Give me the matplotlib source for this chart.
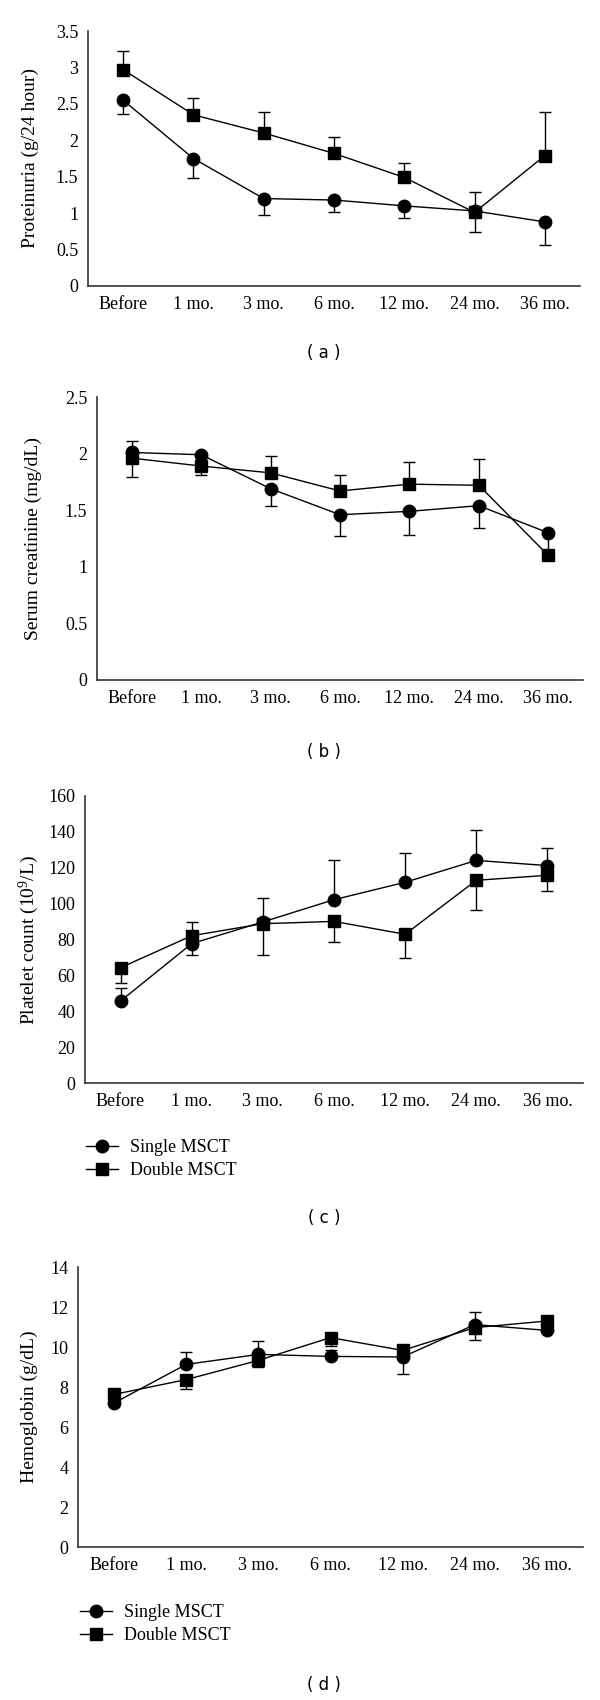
import numpy as np
import matplotlib
matplotlib.use("Agg")
import matplotlib.pyplot as plt

plt.rcParams["font.family"] = ["Liberation Serif", "DejaVu Serif"]
plt.rcParams["mathtext.fontset"] = "custom"
plt.rcParams["mathtext.rm"] = "Liberation Serif"
plt.rcParams["mathtext.it"] = "Liberation Serif:italic"

months = ["Before", "1 mo.", "3 mo.", "6 mo.", "12 mo.", "24 mo.", "36 mo."]

# (a) proteinuria
prot_single = [2.55, 1.75, 1.20, 1.18, 1.10, 1.03, 0.88]
prot_single_err = [0.19, 0.27, 0.22, 0.16, 0.17, 0.29, 0.32]
prot_double = [2.97, 2.35, 2.10, 1.82, 1.49, 1.01, 1.79]
prot_double_err = [0.25, 0.23, 0.29, 0.22, 0.20, 0.28, 0.60]

# (b) serum creatinine
creat_single = [2.01, 1.99, 1.69, 1.46, 1.49, 1.54, 1.30]
creat_single_err = [0.22, 0.18, 0.15, 0.19, 0.21, 0.20, 0.18]
creat_double = [1.96, 1.89, 1.83, 1.67, 1.73, 1.72, 1.10]
creat_double_err = [0.15, 0.08, 0.15, 0.14, 0.20, 0.23, 0.05]

# (c) platelet count
plt_single = [45.7, 77.7, 89.8, 102.2, 111.9, 124.1, 121.2]
plt_single_err = [7.5, 12.3, 13.3, 22.3, 16.5, 17.0, 10.0]
plt_double = [64.3, 82.1, 88.8, 90.1, 82.9, 113.0, 115.8]
plt_double_err = [8.5, 11.0, 17.3, 11.5, 13.4, 16.5, 8.6]

# (d) hemoglobin
hb_single = [7.2, 9.13, 9.63, 9.53, 9.5, 11.12, 10.83]
hb_single_err = [0.2, 0.62, 0.65, 0.3, 0.2, 0.63, 0.2]
hb_double = [7.63, 8.37, 9.33, 10.47, 9.83, 10.97, 11.3]
hb_double_err = [0.2, 0.45, 0.33, 0.4, 1.2, 0.63, 0.2]

W, H = 600, 1700
fig = plt.figure(figsize=(6, 17), dpi=100)


def px_axes(left, right, top, bottom):
    # pixel box -> figure fraction
    return fig.add_axes([left / W, 1 - bottom / H, (right - left) / W, (bottom - top) / H])


def draw_panel(ax, single, s_err, double, d_err, single_up, ymax, ystep, yfmt, ylabel):
    x = np.arange(len(months)) + 0.5
    zero = np.zeros(len(months))
    s_yerr = [zero, s_err] if single_up else [s_err, zero]
    d_yerr = [d_err, zero] if single_up else [zero, d_err]
    kw = dict(fmt="none", ecolor="black", elinewidth=1.0, capsize=4, capthick=1.0, zorder=2)
    ax.errorbar(x, single, yerr=s_yerr, **kw)
    ax.errorbar(x, double, yerr=d_yerr, **kw)
    ax.plot(x, single, color="black", lw=1.0, marker="o", ms=9, label="Single MSCT", zorder=3)
    ax.plot(x, double, color="black", lw=1.0, marker="s", ms=8.5, label="Double MSCT", zorder=3)

    ax.set_xlim(0, len(months))
    ax.set_ylim(0, ymax)
    ax.set_xticks(x)
    ax.set_xticklabels(months)
    yt = np.arange(0, ymax + ystep / 2, ystep)
    ax.set_yticks(yt)
    ax.set_yticklabels([yfmt(v) for v in yt])
    ax.tick_params(length=0, labelsize=13, pad=7)
    for s in ["top", "right"]:
        ax.spines[s].set_visible(False)
    for s in ["left", "bottom"]:
        ax.spines[s].set_color("#333333")
        ax.spines[s].set_linewidth(1.2)
    ax.set_ylabel(ylabel, fontsize=14)


def fmt_dec(v):
    return "0" if v == 0 else ("%g" % v)


def fmt_int(v):
    return "%d" % v


ax_a = px_axes(88, 580, 31, 286)
draw_panel(ax_a, prot_single, prot_single_err, prot_double, prot_double_err,
           False, 3.5, 0.5, fmt_dec, "Proteinuria (g/24 hour)")
ax_a.yaxis.set_label_coords((39 - 88) / (580 - 88), 0.5)

ax_b = px_axes(97, 583, 397, 680)
draw_panel(ax_b, creat_single, creat_single_err, creat_double, creat_double_err,
           False, 2.5, 0.5, fmt_dec, "Serum creatinine (mg/dL)")
ax_b.yaxis.set_label_coords((42 - 97) / (583 - 97), 0.5)

ax_c = px_axes(85, 583, 796, 1083)
draw_panel(ax_c, plt_single, plt_single_err, plt_double, plt_double_err,
           True, 160, 20, fmt_int, "Platelet count (10$^{9}$/L)")
ax_c.yaxis.set_label_coords((41 - 85) / (583 - 85), 0.5)

ax_d = px_axes(78, 583, 1267, 1547)
draw_panel(ax_d, hb_single, hb_single_err, hb_double, hb_double_err,
           True, 14, 2, fmt_int, "Hemoglobin (g/dL)")
ax_d.yaxis.set_label_coords((38 - 78) / (583 - 78), 0.5)

for ax, lx, ly in [(ax_c, 86, 1139), (ax_d, 80, 1604)]:
    ax.legend(loc="upper left", bbox_to_anchor=(lx / W, 1 - ly / H),
              bbox_transform=fig.transFigure, frameon=False, fontsize=13,
              borderpad=0, borderaxespad=0, handlelength=1.75,
              handletextpad=0.7, labelspacing=0.35)

for lab, y in [("( a )", 353), ("( b )", 752), ("( c )", 1218), ("( d )", 1685)]:
    fig.text(324 / W, 1 - y / H, lab, ha="center", va="center",
             fontsize=12, family="DejaVu Sans")

fig.savefig("out.png", dpi=100)
